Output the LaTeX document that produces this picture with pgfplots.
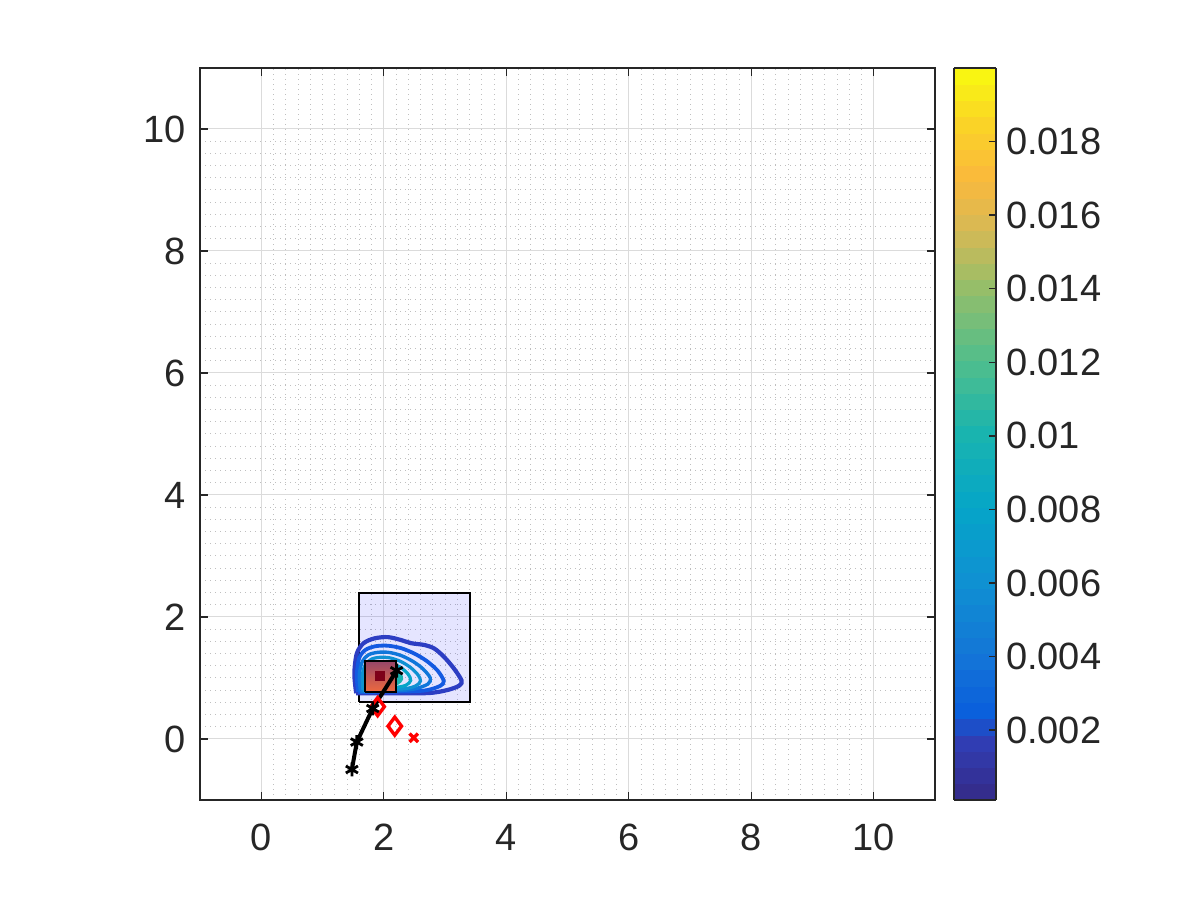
\documentclass[border=0pt]{standalone}
\usepackage{pgfplots}
\pgfplotsset{compat=1.18}
\usepackage{fontspec}
\setmainfont{Liberation Sans}
\definecolor{axgray}{RGB}{38,38,38}
\definecolor{c1}{RGB}{45,62,195}
\definecolor{c2}{RGB}{20,90,225}
\definecolor{c3}{RGB}{15,118,218}
\definecolor{c4}{RGB}{15,145,210}
\definecolor{c5}{RGB}{5,165,200}
\definecolor{c6}{RGB}{25,180,175}
\definecolor{c7}{RGB}{80,190,140}
\definecolor{c8}{RGB}{150,190,105}
\definecolor{c9}{RGB}{230,185,75}
\definecolor{rtop}{RGB}{150,70,105}
\definecolor{rbot}{RGB}{238,105,62}
\definecolor{darkmark}{RGB}{125,0,25}
\begin{document}
\begin{tikzpicture}
\path[use as bounding box] (0,0) rectangle (600pt,450pt);
\begin{axis}[
  at={(100pt,50pt)}, anchor=south west,
  scale only axis, width=367.5pt, height=366pt,
  xmin=-1, xmax=11, ymin=-1, ymax=11,
  xtick={0,2,4,6,8,10}, ytick={0,2,4,6,8,10},
  minor tick num=9,
  grid=both,
  major grid style={line width=0.5pt, color=black!14},
  minor grid style={line width=0.5pt, color=black!25, dotted},
  tick align=inside,
  major tick length=4pt, minor tick length=0pt,
  axis line style={line width=0.7pt, color=axgray},
  every tick/.style={line width=0.7pt, color=axgray},
  tick label style={font=\fontsize{19}{22}\selectfont, color=axgray},
  /pgf/number format/assume math mode=true,
  xticklabel style={yshift=-8.5pt},
  yticklabel style={xshift=-3.5pt},
  colormap={parulaish}{
    rgb255(0mm)=(53,42,135);
    rgb255(8mm)=(48,62,180);
    rgb255(12mm)=(10,95,220);
    rgb255(20mm)=(20,118,215);
    rgb255(30mm)=(15,145,210);
    rgb255(40mm)=(5,165,200);
    rgb255(50mm)=(25,180,175);
    rgb255(60mm)=(80,190,140);
    rgb255(70mm)=(150,190,105);
    rgb255(78mm)=(215,185,85);
    rgb255(85mm)=(250,185,60);
    rgb255(92mm)=(250,210,40);
    rgb255(100mm)=(249,251,14)
  },
  point meta min=0.0001, point meta max=0.02,
  colorbar sampled,
  colorbar style={
    at={(parent axis.north east)}, anchor=north west,
    xshift=1pt, width=21pt,
    samples=46,
    ytick={0.002,0.004,0.006,0.008,0.01,0.012,0.014,0.016,0.018},
    yticklabels={0.002,0.004,0.006,0.008,0.01,0.012,0.014,0.016,0.018},
    scaled y ticks=false,
    tick align=inside,
    ytick pos=right,
    major tick length=3.5pt,
    axis line style={line width=0.7pt, color=axgray},
    every tick/.style={line width=0.7pt, color=axgray},
    yticklabel style={font=\fontsize{19}{22}\selectfont, color=axgray, xshift=1.5pt},
  },
]
% big translucent rectangle
\addplot[draw=black, line width=1pt, fill=blue, fill opacity=0.1] coordinates {(1.6,0.6) (3.4,0.6) (3.4,2.4) (1.6,2.4) (1.6,0.6)};
% contour lines
\addplot[draw=c1, line width=2.1pt, smooth, tension=0.5] coordinates {
 (1.55,0.75) (1.52,1.07) (1.56,1.40) (1.67,1.57) (1.85,1.65) (2.07,1.67) (2.29,1.62) (2.45,1.57) (2.67,1.54) (2.83,1.48) (2.99,1.34) (3.15,1.15) (3.27,0.96) (3.24,0.88) (3.10,0.82) (2.88,0.77) (2.61,0.75) (1.55,0.75)};
\addplot[draw=c2, line width=1.9pt, smooth, tension=0.5] coordinates {
 (1.58,0.77) (1.56,1.05) (1.60,1.33) (1.70,1.46) (1.86,1.52) (2.06,1.53) (2.28,1.49) (2.50,1.40) (2.70,1.28) (2.88,1.12) (2.98,0.95) (2.92,0.87) (2.70,0.80) (2.40,0.78) (1.58,0.77)};
\addplot[draw=c3, line width=1.7pt, smooth, tension=0.5] coordinates {
 (1.62,0.78) (1.60,1.05) (1.65,1.27) (1.75,1.38) (1.90,1.42) (2.08,1.42) (2.28,1.37) (2.48,1.27) (2.64,1.15) (2.76,1.00) (2.72,0.90) (2.50,0.82) (2.20,0.79) (1.62,0.78)};
\addplot[draw=c4, line width=1.6pt, smooth, tension=0.5] coordinates {
 (1.66,0.80) (1.65,1.05) (1.70,1.22) (1.80,1.31) (1.94,1.34) (2.10,1.33) (2.28,1.27) (2.44,1.17) (2.56,1.05) (2.60,0.95) (2.52,0.87) (2.30,0.82) (1.66,0.80)};
\addplot[draw=c5, line width=1.6pt, smooth, tension=0.5] coordinates {
 (1.70,0.82) (1.70,1.05) (1.75,1.17) (1.85,1.24) (1.98,1.26) (2.12,1.24) (2.28,1.17) (2.40,1.06) (2.44,0.96) (2.36,0.88) (2.15,0.84) (1.70,0.82)};
% dense inner contours (filled)
\addplot[draw=c6, fill=c6, line width=1pt, smooth, tension=0.5] coordinates {
 (1.75,0.85) (1.75,1.05) (1.80,1.13) (1.90,1.18) (2.02,1.19) (2.15,1.16) (2.27,1.07) (2.30,0.98) (2.22,0.90) (2.00,0.86) (1.75,0.85)};
\addplot[draw=c7, fill=c7, line width=1pt, smooth, tension=0.5] coordinates {
 (1.80,0.88) (1.80,1.04) (1.87,1.10) (1.98,1.12) (2.10,1.09) (2.18,1.02) (2.16,0.94) (2.00,0.89) (1.80,0.88)};
\addplot[draw=c8, fill=c8, line width=1pt, smooth, tension=0.5] coordinates {
 (1.84,0.90) (1.84,1.02) (1.92,1.07) (2.03,1.06) (2.11,0.99) (2.06,0.93) (1.84,0.90)};
\addplot[draw=c9, fill=c9, line width=1pt, smooth, tension=0.5] coordinates {
 (1.88,0.92) (1.88,1.01) (1.96,1.04) (2.05,1.00) (2.01,0.94) (1.88,0.92)};
% small rectangle overlay
\addplot[draw=black, line width=1.1pt, top color=rtop, bottom color=rbot] coordinates {(1.70,0.77) (2.20,0.77) (2.20,1.28) (1.70,1.28) (1.70,0.77)};
% dark square marker
\addplot[only marks, mark=square*, mark size=2.4pt, color=darkmark] coordinates {(1.935,1.035)};
% red diamonds
\addplot[only marks, color=red, mark=diamond, mark size=4.5pt, mark options={line width=1.7pt, solid}] coordinates {(1.90,0.53) (2.18,0.21)};
% red x
\addplot[only marks, color=red, mark=x, mark size=3pt, mark options={line width=1.7pt}] coordinates {(2.49,0.02)};
% trajectory
\addplot[color=black, line width=2pt, mark=asterisk, mark size=3.5pt, mark options={line width=1.4pt}] coordinates {(2.21,1.12) (1.82,0.50) (1.56,-0.05) (1.48,-0.50)};
\end{axis}
\end{tikzpicture}
\end{document}
